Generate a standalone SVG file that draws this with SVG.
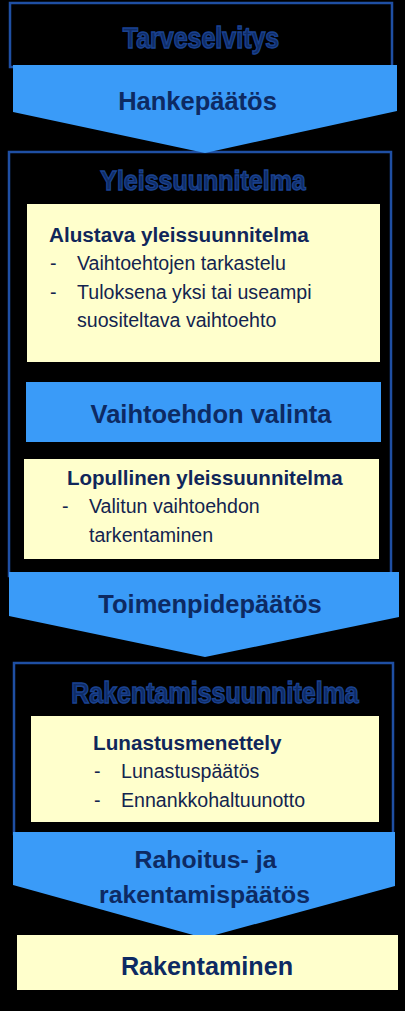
<svg xmlns="http://www.w3.org/2000/svg" width="405" height="1011" viewBox="0 0 405 1011">
<style>
.frame{fill:none;stroke:#1f4fa3;stroke-width:2.5}
.arrow{fill:#3a9bf8}
.yel{fill:#ffffcc}
.head{font-family:"Liberation Sans",Arial,sans-serif;font-weight:bold;font-size:25px;fill:#0f2c66;stroke:#1a4290;stroke-width:1.2;text-anchor:middle}
.dec{font-family:"Liberation Sans",Arial,sans-serif;font-weight:bold;font-size:25.5px;fill:#0d2a63;text-anchor:middle}
.bt{font-family:"Liberation Sans",Arial,sans-serif;font-weight:bold;font-size:20.7px;fill:#10265a}
.tx{font-family:"Liberation Sans",Arial,sans-serif;font-size:19.6px;fill:#13244f}
</style>
<rect x="0" y="0" width="405" height="1011" fill="#000"/>
<g id="tarveselvitys">
<rect class="frame" x="10" y="3" width="382" height="64"/>
<text class="head" transform="translate(201,48) scale(1,1.17)">Tarveselvitys</text>
</g>
<g id="yleissuunnitelma">
<rect class="frame" x="9" y="152" width="382" height="424"/>
<text class="head" transform="translate(203,190) scale(1,1.12)">Yleissuunnitelma</text>
</g>
<g id="rakentamissuunnitelma">
<rect class="frame" x="14" y="663" width="379" height="171"/>
<text class="head" transform="translate(215,703) scale(1,1.15)">Rakentamissuunnitelma</text>
</g>
<g id="connectors">
<g id="hankepaatos">
<polygon class="arrow" points="13,65 397,65 397,111 205,153 13,112"/>
<text class="dec" x="197.5" y="110">Hankepäätös</text>
</g>
<g id="toimenpidepaatos">
<polygon class="arrow" points="9,572 399,572 399,617 205,657 9,616"/>
<text class="dec" x="210" y="613">Toimenpidepäätös</text>
</g>
<g id="rahoitus">
<polygon class="arrow" points="13,832 395,832 395,886 204,938 13,885"/>
<text class="dec" x="205.5" y="868" style="font-size:24.8px">Rahoitus- ja</text>
<text class="dec" x="204.5" y="903" style="font-size:24.8px">rakentamispäätös</text>
</g>
</g>
<g id="alustava">
<rect class="yel" x="27" y="204" width="353" height="158"/>
<text class="bt" x="49" y="242">Alustava yleissuunnitelma</text>
<text class="tx" x="50" y="270">-</text>
<text class="tx" x="77" y="270">Vaihtoehtojen tarkastelu</text>
<text class="tx" x="50" y="299">-</text>
<text class="tx" x="77" y="299">Tuloksena yksi tai useampi</text>
<text class="tx" x="77" y="327">suositeltava vaihtoehto</text>
</g>
<g id="vaihtoehdon-valinta">
<rect class="arrow" x="26" y="382" width="355" height="60"/>
<text class="dec" x="211" y="423">Vaihtoehdon valinta</text>
</g>
<g id="lopullinen">
<rect class="yel" x="24" y="459" width="355" height="100"/>
<text class="bt" x="67" y="485" style="font-size:20.5px">Lopullinen yleissuunnitelma</text>
<text class="tx" x="62" y="513">-</text>
<text class="tx" x="89" y="513">Valitun vaihtoehdon</text>
<text class="tx" x="89" y="542">tarkentaminen</text>
</g>
<g id="lunastusmenettely">
<rect class="yel" x="31" y="716" width="348" height="106"/>
<text class="bt" x="93" y="750">Lunastusmenettely</text>
<text class="tx" x="94" y="778">-</text>
<text class="tx" x="121" y="778">Lunastuspäätös</text>
<text class="tx" x="94" y="807">-</text>
<text class="tx" x="121" y="807">Ennankkohaltuunotto</text>
</g>
<g id="rakentaminen">
<rect class="yel" x="17" y="935" width="381" height="55"/>
<text class="dec" x="207" y="975" style="font-size:25.2px">Rakentaminen</text>
</g>
</svg>
